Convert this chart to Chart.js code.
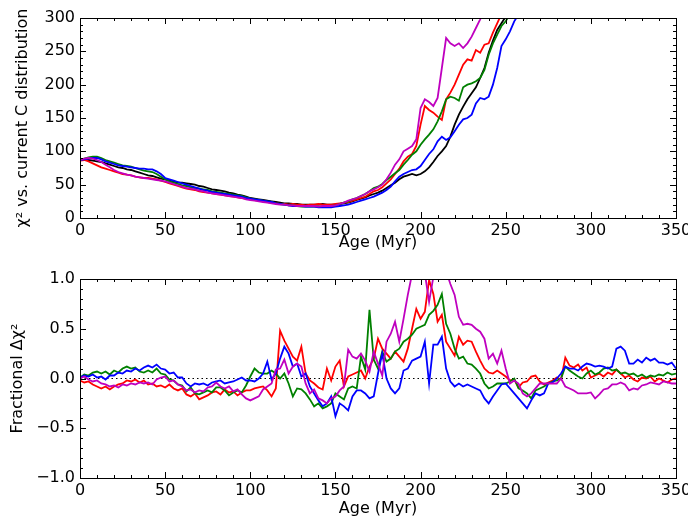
<!DOCTYPE html>
<html>
<head>
<meta charset="utf-8">
<script src="https://cdn.jsdelivr.net/npm/chart.js@4/dist/chart.umd.min.js"></script>
<style>
  body { margin: 0; background: #fff; }
  #wrap { position: relative; width: 688px; height: 519px; }
  canvas { position: absolute; left: 0; }
</style>
</head>
<body>
<div id="wrap">
  <canvas id="top" width="688" height="260" style="top:0"></canvas>
  <canvas id="bottom" width="688" height="259" style="top:260px"></canvas>
</div>
<script>
// ages are sampled every 2.5 Myr starting at 0
const AGE_STEP = 2.5;

// chi^2 vs current C distribution (top panel), one value per age step
const chiBlack = [88, 88, 87, 86, 85, 84, 82, 80, 78, 76,
  75, 73, 72, 70, 68, 66, 64, 63, 61, 59,
  58, 56, 55, 53, 53, 52, 51, 50, 48, 47,
  45, 43, 42, 41, 40, 38, 37, 35, 34, 32,
  30, 29, 28, 27, 26, 25, 24, 23, 22, 22,
  21, 21, 20, 20, 20, 20, 20, 21, 20, 20,
  20, 21, 22, 23, 25, 27, 29, 31, 34, 36,
  38, 41, 45, 49, 53, 58, 62, 64, 66, 64,
  66, 70, 76, 84, 93, 100, 108, 122, 140, 155,
  167, 178, 187, 196, 210, 225, 248, 266, 282, 292,
  302, 320];
const chiRed = [86, 87, 85, 82, 79, 76, 74, 72, 70, 68,
  66, 65, 64, 62, 61, 60, 60, 59, 58, 56,
  54, 52, 50, 48, 46, 44, 43, 42, 40, 39,
  38, 37, 36, 35, 34, 33, 32, 31, 30, 29,
  28, 27, 26, 25, 24, 23, 22, 21, 21, 20,
  21, 20, 20, 19, 20, 20, 21, 20, 20, 20,
  21, 22, 23, 24, 26, 28, 30, 32, 36, 40,
  42, 46, 52, 58, 66, 74, 85, 92, 96, 108,
  140, 168, 162, 158, 152, 147, 178, 188, 200, 215,
  230, 238, 236, 252, 248, 260, 262, 278, 292, 306];
const chiGreen = [87, 89, 91, 92, 92, 90, 87, 85, 83, 81,
  79, 78, 77, 75, 73, 71, 70, 69, 66, 62,
  58, 55, 53, 51, 49, 48, 46, 45, 44, 43,
  42, 40, 39, 38, 37, 36, 35, 34, 33, 31,
  29, 28, 27, 26, 25, 24, 22, 21, 20, 19,
  19, 18, 17, 17, 17, 17, 17, 17, 18, 18,
  19, 21, 23, 25, 28, 30, 33, 36, 40, 45,
  47, 51, 57, 62, 67, 72, 80, 87, 95, 100,
  110, 118, 125, 133, 145, 160, 178, 182, 180, 176,
  196, 200, 202, 205, 210, 222, 245, 262, 275, 288,
  295, 306];
const chiBlue = [87, 88, 89, 90, 90, 88, 85, 83, 81, 79,
  78, 77, 76, 75, 74, 74, 73, 73, 70, 66,
  60, 58, 56, 54, 52, 50, 48, 46, 44, 42,
  41, 39, 38, 37, 36, 35, 34, 33, 32, 30,
  29, 28, 27, 26, 25, 24, 22, 21, 20, 19,
  18, 18, 18, 17, 17, 17, 16, 16, 16, 16,
  17, 18, 19, 20, 22, 24, 26, 28, 30, 32,
  35, 38, 42, 47, 55, 62, 66, 69, 72, 73,
  78, 87, 96, 103, 115, 122, 117, 121, 130, 140,
  148, 150, 155, 172, 180, 178, 182, 200, 225, 258,
  268, 280, 295, 305];
const chiMagenta = [87, 89, 90, 89, 87, 84, 80, 76, 72, 69,
  67, 65, 64, 62, 61, 60, 59, 58, 57, 56,
  55, 53, 51, 49, 47, 45, 44, 43, 41, 40,
  38, 37, 36, 35, 34, 33, 32, 31, 30, 28,
  27, 26, 25, 24, 23, 22, 21, 20, 20, 19,
  19, 18, 18, 18, 18, 18, 17, 18, 18, 18,
  19, 21, 23, 26, 28, 30, 33, 36, 40, 43,
  46, 50, 58, 68, 80, 88, 100, 104, 108, 118,
  165, 178, 174, 168, 180, 225, 270, 262, 258, 262,
  255, 262, 272, 285, 298, 312];

// fractional delta chi^2 (bottom panel)
const fracRed = [-0.02, -0.04, -0.03, -0.06, -0.08, -0.1, -0.08, -0.11, -0.08, -0.06,
  -0.05, -0.02, -0.03, -0.01, -0.04, -0.02, -0.06, -0.05, -0.08, -0.07,
  -0.09, -0.06, -0.1, -0.12, -0.1, -0.16, -0.18, -0.15, -0.21, -0.19,
  -0.17, -0.14, -0.13, -0.16, -0.11, -0.14, -0.13, -0.17, -0.14, -0.12,
  -0.12, -0.1, -0.09, -0.08, -0.12, -0.18, -0.1, 0.48, 0.38, 0.3,
  0.22, 0.18, 0.32, 0.05, -0.02, -0.05, -0.09, -0.11, 0.1, -0.02,
  0.12, 0.18, -0.08, 0.02, 0.04, 0.06, 0.08, 0.0, 0.12, 0.2,
  0.4, 0.3, 0.25, 0.2, 0.27, 0.22, 0.17, 0.3, 0.5, 0.7,
  0.6, 0.67, 0.99, 0.85, 0.57, 0.64, 0.37, 0.3, 0.23, 0.42,
  0.34, 0.38, 0.37, 0.27, 0.18, 0.1, 0.06, 0.05, 0.08, 0.05,
  0.02, -0.02, -0.01, -0.09, -0.04, -0.03, 0.02, 0.03, -0.03, -0.06,
  -0.04, -0.02, 0.01, -0.01, 0.21, 0.13, 0.11, 0.14, 0.08, 0.11,
  0.01, 0.03, 0.05, 0.02, 0.06, 0.04, 0.09, 0.05, 0.01, 0.03,
  -0.01, -0.03, 0.01, 0.0, 0.02, -0.03, 0.0, -0.02, -0.04, -0.01,
  0.0];
const fracGreen = [0.01, 0.04, 0.03, 0.06, 0.07, 0.05, 0.07, 0.04, 0.08, 0.06,
  0.1, 0.12, 0.1, 0.11, 0.07, 0.06, 0.08, 0.06, 0.1, 0.05,
  0.04, -0.01, -0.02, -0.06, -0.07, -0.13, -0.09, -0.15, -0.16, -0.14,
  -0.12, -0.14, -0.09, -0.09, -0.12, -0.17, -0.14, -0.12, -0.14, -0.07,
  0.02, 0.1, 0.06, 0.05, 0.05, 0.08, 0.05, 0.0, 0.05, -0.05,
  -0.18, -0.1, -0.11, -0.15, -0.21, -0.28, -0.25, -0.3, -0.28, -0.25,
  -0.15, -0.18, -0.21, -0.1, -0.08, -0.1, 0.22, 0.09, 0.69, 0.19,
  0.1, 0.27, 0.17, 0.2, 0.27, 0.3, 0.37, 0.4, 0.44, 0.5,
  0.52, 0.54, 0.64, 0.68, 0.74, 0.85, 0.55, 0.45, 0.3, 0.2,
  0.22, 0.15, 0.14, 0.1, 0.05, -0.05, -0.1, -0.08, -0.05, -0.05,
  -0.05, -0.03, 0.0, -0.1, -0.12, -0.15, -0.2, -0.12, -0.1, -0.08,
  -0.05, -0.03, -0.02, 0.0, 0.12, 0.08, 0.05, 0.02, 0.0, 0.05,
  0.08, 0.04, 0.06, 0.1, 0.11, 0.08, 0.09, 0.05, 0.06, 0.04,
  0.05, 0.02, 0.04, 0.01, 0.03, 0.02, 0.04, 0.03, 0.06, 0.04,
  0.05];
const fracBlue = [0.01, 0.03, 0.02, 0.04, 0.01, 0.02, -0.01, 0.03, 0.03, 0.06,
  0.05, 0.08, 0.07, 0.1, 0.08, 0.11, 0.13, 0.11, 0.14, 0.1,
  0.09, 0.05, 0.06, 0.01, 0.01, -0.05, -0.08, -0.05, -0.06, -0.05,
  -0.07, -0.04, -0.03, -0.02, -0.05, -0.04, -0.03, -0.01, 0.01, -0.02,
  -0.02, -0.03, 0.0, 0.05, 0.17, -0.01, 0.05, 0.2, 0.32, 0.25,
  0.12, 0.15, 0.02, 0.05, -0.08, -0.15, -0.22, -0.28, -0.25, -0.18,
  -0.38, -0.25, -0.28, -0.32, -0.18, -0.12, -0.12, -0.15, -0.2, -0.18,
  0.05, 0.25, 0.0, -0.1, -0.15, -0.1, 0.08, 0.1, 0.18, 0.2,
  0.22, 0.37, -0.05, 0.34, 0.34, 0.42, 0.1, -0.03, -0.08, -0.05,
  -0.08, -0.06, -0.08, -0.1, -0.12, -0.2, -0.25, -0.18, -0.12, -0.06,
  -0.05, -0.1, -0.15, -0.2, -0.25, -0.3, -0.22, -0.15, -0.17, -0.15,
  -0.05, -0.04, 0.0, 0.05, 0.12, 0.1, 0.1, 0.08, 0.12, 0.15,
  0.14, 0.12, 0.13, 0.12, 0.1, 0.12, 0.3, 0.32, 0.28, 0.15,
  0.15, 0.19, 0.16, 0.21, 0.18, 0.2, 0.16, 0.16, 0.14, 0.16,
  0.1];
const fracMagenta = [0.0, 0.02, -0.01, -0.03, -0.02, -0.05, -0.06, -0.08, -0.07, -0.09,
  -0.06, -0.07, -0.05, -0.06, -0.04, -0.05, -0.04, -0.06, -0.01, 0.01,
  0.02, -0.03, -0.02, -0.06, -0.08, -0.12, -0.11, -0.14, -0.12, -0.13,
  -0.09, -0.08, -0.04, -0.08, -0.1, -0.08, -0.13, -0.11, -0.16, -0.2,
  -0.22, -0.2, -0.18, -0.11, -0.08, -0.05, 0.09, 0.1, 0.19, 0.05,
  0.12, 0.15, 0.12, -0.05, -0.15, -0.11, -0.2, -0.22, -0.25, -0.2,
  -0.18, -0.12, -0.08, 0.29, 0.22, 0.2, 0.25, 0.18, 0.07, 0.27,
  0.15, 0.03, 0.37, 0.45, 0.57, 0.37, 0.6, 0.84, 1.05, 1.08,
  1.1, 1.06, 0.77, 1.02, 1.1, 1.12, 1.08, 0.95, 0.84, 0.62,
  0.54, 0.55, 0.54, 0.5, 0.47, 0.4, 0.2, 0.25, 0.15, 0.28,
  0.1, -0.05, -0.02, -0.05, -0.15, -0.18, -0.15, -0.1, -0.05, -0.05,
  -0.05, -0.05, -0.05, 0.0, -0.08, -0.1, -0.12, -0.15, -0.15, -0.15,
  -0.14, -0.2, -0.16, -0.11, -0.1, -0.06, -0.06, -0.04, -0.06, -0.12,
  -0.1, -0.11, -0.07, -0.06, -0.04, -0.05, -0.06, -0.03, -0.04, -0.05,
  -0.05];

const AGE_RANGE = [0, 350];
const CHI_RANGE = [0, 300];
const FRAC_RANGE = [-1, 1];

Chart.defaults.font.family = 'DejaVu Sans';
Chart.defaults.font.size = 16;
Chart.defaults.color = '#000';

function series(values, color, order) {
  return {
    data: values.map((v, i) => ({ x: i * AGE_STEP, y: v })),
    borderColor: color,
    borderWidth: 1.8,
    pointRadius: 0,
    tension: 0,
    fill: false,
    clip: 0,
    order: order
  };
}

// matplotlib style frame with inward ticks on all four sides
const frameTicks = {
  id: 'frameTicks',
  afterDatasetsDraw(chart, args, opts) {
    const { ctx, chartArea: a, scales: { x, y } } = chart;
    ctx.save();
    ctx.strokeStyle = '#000';
    ctx.lineWidth = 1;
    ctx.beginPath();
    const near = (v, step) => Math.abs(v / step - Math.round(v / step)) < 1e-6;
    for (let i = 0; ; i++) {
      const v = x.min + i * opts.xMinor;
      if (v > x.max + 1e-9) break;
      const px = Math.round(x.getPixelForValue(v)) + 0.5;
      const len = near(v, opts.xMajor) ? 6 : 3;
      ctx.moveTo(px, a.bottom); ctx.lineTo(px, a.bottom - len);
      ctx.moveTo(px, a.top); ctx.lineTo(px, a.top + len);
    }
    for (let i = 0; ; i++) {
      const v = y.min + i * opts.yMinor;
      if (v > y.max + 1e-9) break;
      const py = Math.round(y.getPixelForValue(v)) + 0.5;
      const len = near(v - y.min, opts.yMajor) ? 6 : 3;
      ctx.moveTo(a.left, py); ctx.lineTo(a.left + len, py);
      ctx.moveTo(a.right, py); ctx.lineTo(a.right - len, py);
    }
    ctx.stroke();
    ctx.strokeRect(Math.round(a.left) + 0.5, Math.round(a.top) + 0.5,
      Math.round(a.right - a.left), Math.round(a.bottom - a.top));
    ctx.restore();
  }
};

function makeOptions(cfg) {
  return {
    responsive: false,
    animation: false,
    events: [],
    layout: { padding: { left: 0, right: 12, top: cfg.top, bottom: 0 } },
    plugins: { legend: { display: false }, tooltip: { enabled: false }, frameTicks: cfg.ticks },
    scales: {
      x: {
        type: 'linear',
        min: AGE_RANGE[0], max: AGE_RANGE[1],
        grid: { display: false, drawTicks: false },
        border: { display: false },
        ticks: { stepSize: 50, padding: 3, autoSkip: false, maxRotation: 0 },
        title: { display: true, text: 'Age (Myr)', padding: { top: 0, bottom: cfg.xTitlePad } },
        afterFit: s => { s.height = cfg.xHeight; s.paddingLeft = 0; s.paddingRight = 0; }
      },
      y: {
        type: 'linear',
        min: cfg.yRange[0], max: cfg.yRange[1],
        grid: { display: false, drawTicks: false },
        border: { display: false },
        ticks: { stepSize: cfg.yStep, padding: 5, callback: cfg.yFmt },
        title: { display: true, text: cfg.yTitle, padding: { top: cfg.yTitlePad, bottom: 0 } },
        afterFit: s => { s.width = 80; s.paddingTop = 0; s.paddingBottom = 0; }
      }
    }
  };
}

new Chart(document.getElementById('top'), {
  type: 'line',
  data: {
    datasets: [
      series(chiBlack, '#000000', 4),
      series(chiRed, '#ff0000', 3),
      series(chiGreen, '#008000', 2),
      series(chiBlue, '#0000ff', 1),
      series(chiMagenta, '#bf00bf', 0)
    ]
  },
  options: makeOptions({
    top: 18, xHeight: 42, xTitlePad: 8, yTitlePad: 13,
    yRange: CHI_RANGE, yStep: 50,
    yFmt: v => String(v),
    yTitle: '\u03c7\u00b2 vs. current C distribution',
    ticks: { xMinor: 10, xMajor: 50, yMinor: 10, yMajor: 50 }
  }),
  plugins: [frameTicks]
});

new Chart(document.getElementById('bottom'), {
  type: 'line',
  data: {
    datasets: [
      {
        data: AGE_RANGE.map(a => ({ x: a, y: 0 })),
        borderColor: '#000', borderWidth: 1, borderDash: [1.5, 3],
        pointRadius: 0, clip: 0, order: 5
      },
      series(fracRed, '#ff0000', 3),
      series(fracGreen, '#008000', 2),
      series(fracBlue, '#0000ff', 1),
      series(fracMagenta, '#bf00bf', 0)
    ]
  },
  options: makeOptions({
    top: 19, xHeight: 41, xTitlePad: 1, yTitlePad: 8,
    yRange: FRAC_RANGE, yStep: 0.5,
    yFmt: v => v.toFixed(1).replace('-', '\u2212'),
    yTitle: 'Fractional \u0394\u03c7\u00b2',
    ticks: { xMinor: 10, xMajor: 50, yMinor: 0.1, yMajor: 0.5 }
  }),
  plugins: [frameTicks]
});
</script>
</body>
</html>
